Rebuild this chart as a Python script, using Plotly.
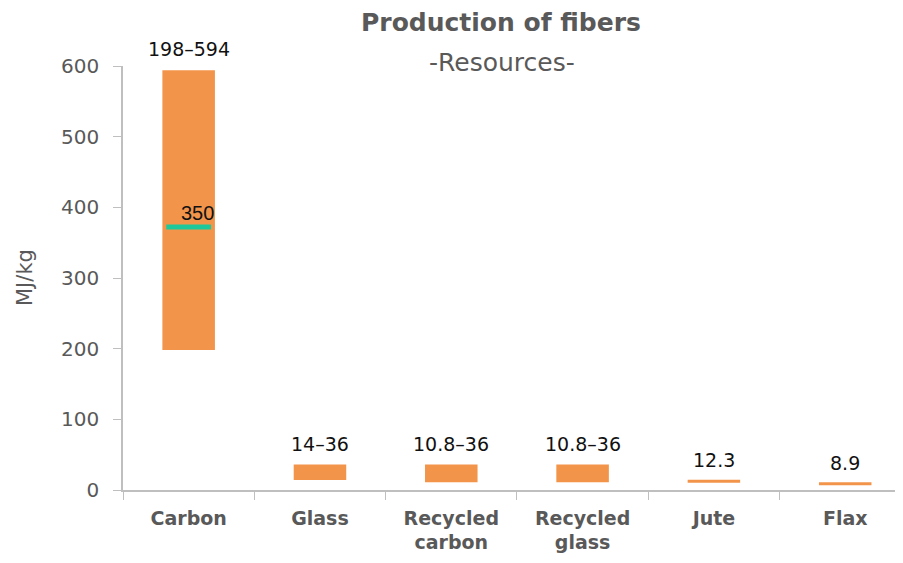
import plotly.graph_objects as go

categories = ["Carbon", "Glass", "Recycled<br>carbon", "Recycled<br>glass", "Jute", "Flax"]
low_values = [198, 14, 10.8, 10.8, 12.3, 8.9]
high_values = [594, 36, 36, 36, 12.3, 8.9]
range_labels = ["198–594", "14–36", "10.8–36", "10.8–36", "12.3", "8.9"]
avg_category = ["Carbon"]
avg_values = [372]
avg_labels = ["350"]

orange = "#F2944A"
gray = "#595959"
axis_gray = "#BFBFBF"

range_cats = [c for c, lo, hi in zip(categories, low_values, high_values) if hi > lo]
range_lo = [lo for lo, hi in zip(low_values, high_values) if hi > lo]
range_h = [hi - lo for lo, hi in zip(low_values, high_values) if hi > lo]
single_cats = [c for c, lo, hi in zip(categories, low_values, high_values) if hi == lo]
single_vals = [lo for lo, hi in zip(low_values, high_values) if hi == lo]

fig = go.Figure()
fig.add_trace(go.Bar(x=range_cats, y=range_h, base=range_lo, width=0.4,
                     marker=dict(color=orange, line=dict(width=0)), hoverinfo="skip"))
fig.add_trace(go.Scatter(x=single_cats, y=single_vals, mode="markers",
                         marker=dict(symbol="line-ew", size=37.5,
                                     line=dict(color=orange, width=3)), hoverinfo="skip"))
fig.add_trace(go.Scatter(x=avg_category, y=avg_values, mode="markers",
                         marker=dict(symbol="line-ew", size=32,
                                     line=dict(color="#1DC99A", width=5)), hoverinfo="skip"))

for c, v, t in zip(categories, high_values, range_labels):
    fig.add_annotation(x=c, y=v, text=t, showarrow=False, yanchor="bottom", yshift=8,
                       font=dict(family="DejaVu Sans", size=19, color="#111111"))
for c, v, t in zip(avg_category, avg_values, avg_labels):
    fig.add_annotation(x=c, y=v, text=t, showarrow=False, xanchor="left", yanchor="middle",
                       xshift=-10, yshift=14,
                       font=dict(family="Liberation Sans", size=20, color="#111111"))

fig.add_annotation(x=0.5, y=1.0, xref="paper", yref="paper", xshift=-12,
                   yanchor="middle", yshift=44,
                   text="<b>Production of fibers</b>", showarrow=False,
                   font=dict(family="DejaVu Sans", size=25, color=gray))
fig.add_annotation(x=0.5, y=1.0, xref="paper", yref="paper", xshift=-11,
                   yanchor="middle", yshift=4,
                   text="-Resources-", showarrow=False,
                   font=dict(family="DejaVu Sans", size=25, color=gray))
fig.add_annotation(x=0, y=0.5, xref="paper", yref="paper", xshift=-98,
                   xanchor="center", yanchor="middle", textangle=-90,
                   text="MJ/kg", showarrow=False,
                   font=dict(family="DejaVu Sans", size=21, color=gray))

fig.update_layout(
    width=903, height=563,
    margin=dict(l=115, r=8, t=58, b=81),
    plot_bgcolor="white", paper_bgcolor="white",
    showlegend=False,
    xaxis=dict(range=[-0.5, 5.44], showline=True, linecolor=axis_gray, linewidth=1.5,
               ticks="outside", tickson="boundaries", ticklen=8, tickcolor=axis_gray,
               tickfont=dict(family="DejaVu Sans", size=19, color=gray, weight="bold"),
               ticklabelstandoff=10,
               showgrid=False, fixedrange=True),
    yaxis=dict(range=[0, 600], dtick=100, showline=True, linecolor=axis_gray, linewidth=1.5,
               ticks="outside", ticklen=8, tickcolor=axis_gray,
               tickfont=dict(family="DejaVu Sans", size=20, color=gray),
               ticklabelstandoff=10,
               showgrid=False, zeroline=False),
)

fig.write_html("out.html")
